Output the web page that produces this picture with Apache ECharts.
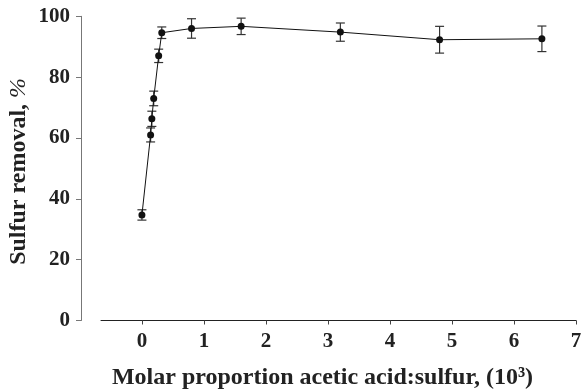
<!DOCTYPE html>
<html>
<head>
<meta charset="utf-8">
<script src="https://cdn.jsdelivr.net/npm/echarts@6/dist/echarts.min.js"></script>
<style>
  html, body { margin: 0; padding: 0; background: #fff; }
  #chart { width: 581px; height: 389px; }
</style>
</head>
<body>
<div id="chart"></div>
<script>
// molar proportion (10^3), sulfur removal %, error (+/-)
var ratios = [0, 0.14, 0.16, 0.19, 0.27, 0.32, 0.8, 1.6, 3.2, 4.8, 6.45];
var removal = [34.7, 61, 66.3, 73, 87, 94.6, 96, 96.7, 94.8, 92.3, 92.6];
var errors = [1.7, 2.3, 2.5, 2.4, 2.2, 1.9, 3.2, 2.7, 3.0, 4.4, 4.2];
var xTicks = [0, 1, 2, 3, 4, 5, 6, 7];

var font = "'Liberation Serif', 'Times New Roman', serif";
var points = ratios.map(function (x, i) { return [x, removal[i]]; });
var bars = ratios.map(function (x, i) { return [x, removal[i] - errors[i], removal[i] + errors[i]]; });

var myChart = echarts.init(document.getElementById("chart"));
myChart.setOption({
  animation: false,
  grid: { left: 101, right: 5, top: 16.3, bottom: 68.5, outerBoundsMode: "none", containLabel: false },
  xAxis: {
    type: "value",
    min: -0.66,
    max: 7,
    splitLine: { show: false },
    axisLine: { onZero: false, lineStyle: { color: "#222", width: 1 } },
    axisTick: { customValues: xTicks, length: 4, lineStyle: { color: "#444" } },
    axisLabel: {
      customValues: xTicks,
      margin: 11,
      fontFamily: font, fontWeight: "bold", fontSize: 21, color: "#222"
    },
    name: "Molar proportion acetic acid:sulfur, (10³)",
    nameLocation: "middle",
    nameGap: 45,
    nameTextStyle: { fontFamily: font, fontWeight: "bold", fontSize: 24, color: "#222", padding: [0, 32, 0, 0] }
  },
  yAxis: {
    type: "value",
    min: 0,
    max: 100,
    interval: 20,
    offset: 20,
    splitLine: { show: false },
    axisLine: { show: true, onZero: false, lineStyle: { color: "#777", width: 1 } },
    axisTick: { show: true, length: 5, lineStyle: { color: "#777" } },
    axisLabel: {
      margin: 11,
      fontFamily: font, fontWeight: "bold", fontSize: 21, color: "#222"
    },
    name: "{a|Sulfur removal, }{b|%}",
    nameLocation: "middle",
    nameRotate: 90,
    nameGap: 50,
    nameMoveOverlap: false,
    nameTextStyle: {
      padding: [0, 6, 0, 0],
      rich: {
        a: { fontFamily: font, fontWeight: "bold", fontSize: 24, color: "#222" },
        b: { fontFamily: font, fontStyle: "italic", fontSize: 24, color: "#222" }
      }
    }
  },
  series: [
    {
      type: "custom",
      data: bars,
      z: 3,
      renderItem: function (params, api) {
        var lo = api.coord([api.value(0), api.value(1)]);
        var hi = api.coord([api.value(0), api.value(2)]);
        var w = 4.5;
        var style = { stroke: "#333", lineWidth: 1.2 };
        return {
          type: "group",
          children: [
            { type: "line", shape: { x1: lo[0], y1: lo[1], x2: hi[0], y2: hi[1] }, style: style },
            { type: "line", shape: { x1: lo[0] - w, y1: lo[1], x2: lo[0] + w, y2: lo[1] }, style: style },
            { type: "line", shape: { x1: hi[0] - w, y1: hi[1], x2: hi[0] + w, y2: hi[1] }, style: style }
          ]
        };
      }
    },
    {
      type: "line",
      data: points,
      z: 4,
      symbol: "circle",
      symbolSize: 7,
      itemStyle: { color: "#111" },
      lineStyle: { color: "#111", width: 1 }
    }
  ]
});
</script>
</body>
</html>
